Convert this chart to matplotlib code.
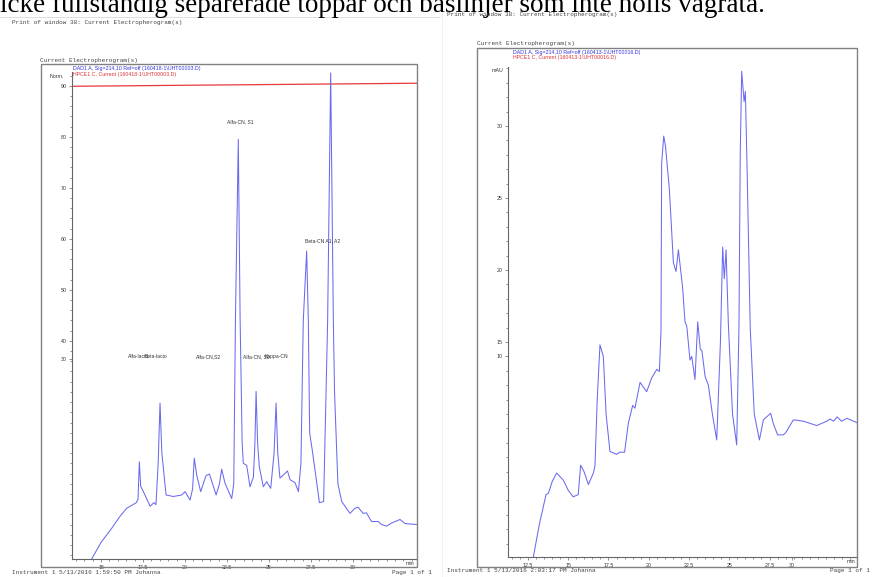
import matplotlib
matplotlib.use("Agg")
import matplotlib.pyplot as plt
from matplotlib.patches import Rectangle
from matplotlib.lines import Line2D
from matplotlib.ticker import MultipleLocator

# ---------------- data ----------------
# Left electropherogram (DAD1 A signal, Norm.)
left_time = [14.45, 15.0, 15.64, 16.1, 16.53, 17.1, 17.2, 17.28, 17.36, 17.52, 17.92, 18.15,
             18.27, 18.4, 18.51, 18.62, 18.87, 19.3, 19.8, 20.0, 20.3, 20.45, 20.55, 20.69,
             20.93, 21.25, 21.45, 21.63, 21.85, 22.05, 22.18, 22.38, 22.78, 22.9, 23.0, 23.17,
             23.28, 23.4, 23.47, 23.67, 23.87, 24.07, 24.16, 24.23, 24.32, 24.42, 24.66, 24.86,
             25.1, 25.3, 25.42, 25.52, 25.65, 25.85, 26.1, 26.25, 26.55, 26.75, 26.9, 27.04,
             27.24, 27.34, 27.42, 27.6, 28.0, 28.25, 28.49, 28.67, 28.83, 28.9, 29.1, 29.33,
             29.82, 30.12, 30.3, 30.6, 30.8, 31.1, 31.5, 31.7, 32.0, 32.3, 32.8, 33.1, 33.8]
left_signal = [-2.7, 0.5, 3.3, 5.5, 7.2, 8.3, 9.0, 16.3, 11.5, 10.45, 7.6, 8.3,
               7.9, 16.0, 27.8, 18.0, 9.8, 9.5, 9.8, 10.45, 8.8, 11.0, 17.0, 13.8,
               10.45, 13.6, 13.9, 12.1, 9.8, 12.0, 14.85, 12.1, 9.1, 12.0, 44.0, 79.5,
               44.0, 20.0, 16.0, 15.6, 11.4, 13.3, 20.0, 30.1, 20.0, 15.35, 11.4, 12.4,
               11.1, 18.0, 27.8, 18.0, 13.1, 13.7, 14.5, 12.8, 12.2, 10.45, 16.0, 44.0,
               57.6, 44.0, 22.0, 18.0, 8.3, 8.5, 44.0, 92.5, 44.0, 30.0, 12.0, 8.5,
               6.2, 7.2, 7.4, 6.2, 6.3, 4.6, 4.6, 4.0, 3.7, 4.3, 5.0, 4.2, 4.0]
left_current_time = [13.3, 20.0, 27.0, 33.8]
left_current = [89.9, 90.1, 90.3, 90.5]

left_peak_names = ["Alfa-CN, S1", "Beta-CN A1, A2", "Alfa-lacto", "Beta-lacto",
                   "Alfa-CN,S2", "Alfa-CN, S0", "Kappa-CN"]
left_peak_x = [22.5, 27.15, 16.6, 17.6, 20.65, 23.45, 24.76]
left_peak_y = [82.9, 59.6, 36.9, 36.9, 36.9, 36.9, 36.9]

left_xticks = [15, 17.5, 20, 22.5, 25, 27.5, 30]
left_xticklabels = ["15", "17.5", "20", "22.5", "25", "27.5", "30"]
left_yticks = [36.5, 40, 50, 60, 70, 80, 90]
left_yticklabels = ["30", "40", "50", "60", "70", "80", "90"]

# Right electropherogram (DAD1 A signal, mAU)
right_time = [12.83, 13.2, 13.62, 13.77, 14.0, 14.28, 14.7, 15.0, 15.31, 15.62, 15.77, 15.98,
              16.25, 16.56, 16.66, 16.8, 16.97, 17.18, 17.35, 17.59, 18.0, 18.2, 18.5, 18.73,
              19.0, 19.14, 19.46, 19.87, 20.18, 20.5, 20.66, 20.76, 20.8, 20.93, 21.04, 21.28,
              21.53, 21.69, 21.84, 22.1, 22.25, 22.36, 22.56, 22.67, 22.87, 23.04, 23.2, 23.3,
              23.5, 23.7, 23.95, 24.22, 24.45, 24.59, 24.69, 24.8, 24.94, 25.2, 25.46, 25.6,
              25.68, 25.77, 25.92, 26.0, 26.12, 26.3, 26.55, 26.87, 27.12, 27.57, 27.73, 28.0,
              28.35, 28.5, 28.98, 29.6, 30.43, 31.05, 31.26, 31.47, 31.7, 31.97, 32.3, 32.93]
right_signal = [0.05, 2.3, 4.4, 4.5, 5.3, 5.9, 5.4, 4.7, 4.25, 4.4, 6.45, 6.0,
                5.1, 5.9, 6.4, 11.0, 14.8, 14.0, 10.0, 7.4, 7.2, 7.35, 7.35, 9.35,
                10.6, 10.4, 12.2, 11.55, 12.5, 13.1, 12.95, 15.8, 27.4, 29.3, 28.6, 25.6,
                20.5, 19.9, 21.4, 18.8, 16.4, 16.1, 13.75, 14.0, 12.4, 16.4, 14.5, 14.4,
                12.6, 12.0, 10.0, 8.2, 15.0, 21.6, 19.4, 21.4, 16.3, 10.0, 7.85, 16.0,
                28.0, 33.8, 31.7, 32.4, 26.25, 16.0, 10.0, 8.2, 9.6, 10.05, 9.35, 8.55,
                8.55, 8.7, 9.6, 9.5, 9.2, 9.5, 9.65, 9.5, 9.8, 9.5, 9.7, 9.4]

right_xticks = [12.5, 15, 17.5, 20, 22.5, 25, 27.5, 28.9]
right_xticklabels = ["12.5", "15", "17.5", "20", "22.5", "25", "27.5", "30"]
right_yticks = [14.0, 15, 20, 25, 30]
right_yticklabels = ["10", "15", "20", "25", "30"]

W, H = 874, 577
BLUE = "#6a6af0"
RED = "#e83a3a"
GRAY = "#808080"

fig = plt.figure(figsize=(W / 100, H / 100), dpi=100)
fig.patch.set_facecolor("white")


def fx(x):
    return x / W


def fy(y):
    return 1 - y / H


def ftext(x, y, s, **kw):
    fig.text(fx(x), fy(y), s, **kw)


# headline (cut off at top of page)
ftext(0, 12, "icke fullständig separerade toppar och baslinjer som inte hölls vågräta.",
      fontsize=19.5, family="Liberation Serif", va="baseline", ha="left", color="black")

# page separators
fig.add_artist(Line2D([fx(0), fx(440)], [fy(17), fy(17)], color="#d8d8d8", lw=0.6))
fig.add_artist(Line2D([fx(442), fx(442)], [fy(12), fy(577)], color="#eeeeee", lw=0.6))

mono = dict(family="Liberation Mono", fontsize=4.3, color="#444444")
ftext(12, 24, "Print of window 38: Current Electropherogram(s)", va="baseline", **mono)
ftext(447, 16, "Print of window 38: Current Electropherogram(s)", va="baseline", **mono)
ftext(40, 62, "Current Electropherogram(s)", va="baseline", **mono)
ftext(477, 45, "Current Electropherogram(s)", va="baseline", **mono)
ftext(12, 574, "Instrument 1 5/13/2016 1:59:50 PM Johanna", va="baseline", **mono)
ftext(432, 574, "Page 1 of 1", va="baseline", ha="right", **mono)
ftext(447, 572, "Instrument 1 5/13/2016 2:03:17 PM Johanna", va="baseline", **mono)
ftext(870, 572, "Page 1 of 1", va="baseline", ha="right", **mono)

# outer frames
for (x0, y0, x1, y1) in [(41, 64, 417, 567), (477, 48, 857, 567)]:
    fig.add_artist(Rectangle((fx(x0), fy(y1)), fx(x1 - x0), (y1 - y0) / H,
                             fill=False, edgecolor=GRAY, lw=1.0))

sans = dict(family="Liberation Sans", fontsize=3.8)
ftext(73, 70, "DAD1 A, Sig=214,10 Ref=off (160418-1\\UHT00003.D)", color="#3333dd", va="baseline", **sans)
ftext(73, 76, "HPCE1 C, Current (160418-1\\UHT00003.D)", color="#dd3333", va="baseline", **sans)
ftext(513, 54, "DAD1 A, Sig=214,10 Ref=off (160413-1\\UHT00016.D)", color="#3333dd", va="baseline", **sans)
ftext(513, 59, "HPCE1 C, Current (160413-1\\UHT00016.D)", color="#dd3333", va="baseline", **sans)
ftext(64, 78, "Norm.", color="#333333", va="baseline", ha="right", **sans)
ftext(503, 72, "mAU", color="#333333", va="baseline", ha="right", **sans)
ftext(414, 565, "min", color="#333333", va="baseline", ha="right", **sans)
ftext(855, 563, "min", color="#333333", va="baseline", ha="right", **sans)


def style_axes(ax):
    ax.set_facecolor("none")
    for s in ["top", "right"]:
        ax.spines[s].set_visible(False)
    for s in ["left", "bottom"]:
        ax.spines[s].set_color("#666666")
        ax.spines[s].set_linewidth(0.8)
    ax.tick_params(axis="both", which="major", length=2.5, width=0.5, colors="#666666",
                   labelsize=3.8, labelcolor="#333333", pad=1.5)
    ax.tick_params(axis="both", which="minor", length=1.5, width=0.5, colors="#666666")
    for lab in ax.get_xticklabels() + ax.get_yticklabels():
        lab.set_family("Liberation Sans")


# left panel
axL = fig.add_axes([fx(72), fy(559), fx(417 - 72), (559 - 72) / H])
axL.plot(left_current_time, left_current, color=RED, lw=0.9)
axL.plot(left_time, left_signal, color=BLUE, lw=0.75)
axL.set_xlim(13.27, 33.81)
axL.set_ylim(-2.75, 92.7)
axL.set_xticks(left_xticks)
axL.set_xticklabels(left_xticklabels)
axL.set_yticks(left_yticks)
axL.set_yticklabels(left_yticklabels)
axL.xaxis.set_minor_locator(MultipleLocator(0.5))
axL.yaxis.set_minor_locator(MultipleLocator(2))
style_axes(axL)
for name, x, y in zip(left_peak_names, left_peak_x, left_peak_y):
    axL.text(x, y, name, fontsize=3.6, family="Liberation Sans", color="#333333",
             ha="left", va="center")

# right panel
axR = fig.add_axes([fx(508), fy(557), fx(857 - 508), (557 - 67) / H])
axR.plot(right_time, right_signal, color=BLUE, lw=0.75)
axR.set_xlim(11.26, 32.93)
axR.set_ylim(0.07, 34.1)
axR.set_xticks(right_xticks)
axR.set_xticklabels(right_xticklabels)
axR.set_yticks(right_yticks)
axR.set_yticklabels(right_yticklabels)
axR.xaxis.set_minor_locator(MultipleLocator(0.5))
axR.yaxis.set_minor_locator(MultipleLocator(1))
style_axes(axR)

fig.savefig("out.png", dpi=100, facecolor="white")
